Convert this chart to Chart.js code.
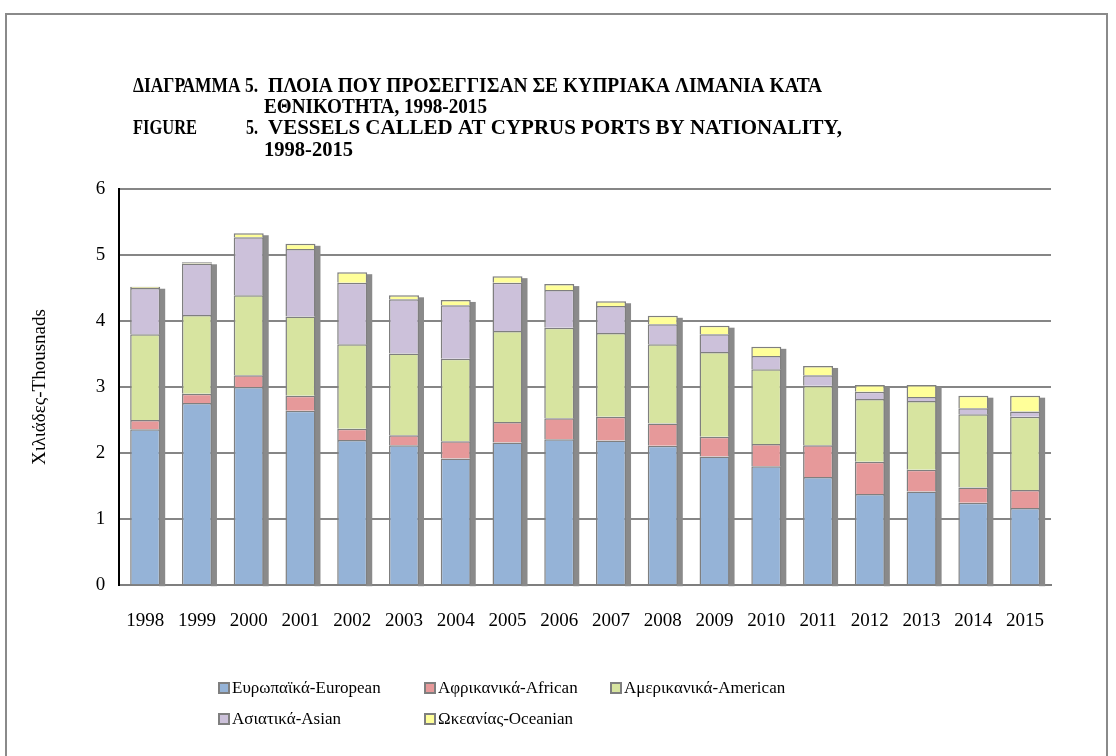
<!DOCTYPE html>
<html lang="el">
<head>
  <meta charset="UTF-8" />
  <title>Vessels called at Cyprus ports by nationality</title>
  <script src="https://cdn.jsdelivr.net/npm/chart.js"></script>
  <style>
    html, body { margin: 0; padding: 0; background: #fff; }
    body { width: 1116px; height: 756px; overflow: hidden; position: relative; font-family: "Liberation Serif", "Times New Roman", serif; }
    #frame { position: absolute; left: 5px; top: 13px; width: 1103px; height: 760px; border: 2px solid #8a8a8a; box-sizing: border-box; }
    #wrap { position: absolute; left: 0; top: 0; width: 1116px; height: 756px; }
    .legend { position: absolute; font-size: 17px; color: #000; white-space: nowrap; display: flex; align-items: center; }
    .legend i { display: inline-block; width: 8px; height: 8px; border: 2px solid #7f7f7f; margin-right: 2px; }
  </style>
</head>
<body>
  <div id="frame"></div>
  <div id="wrap"><canvas id="chart" width="1116" height="756"></canvas></div>
  <div id="legend"></div>

  <script>
    // values in thousands
    const years = ['1998','1999','2000','2001','2002','2003','2004','2005','2006','2007','2008','2009','2010','2011','2012','2013','2014','2015'];
    const european = [2.36, 2.76, 3.00, 2.64, 2.20, 2.12, 1.92, 2.16, 2.21, 2.19, 2.11, 1.95, 1.80, 1.64, 1.38, 1.42, 1.25, 1.17];
    const african  = [0.14, 0.14, 0.18, 0.23, 0.17, 0.15, 0.26, 0.31, 0.32, 0.36, 0.34, 0.30, 0.34, 0.48, 0.49, 0.33, 0.23, 0.27];
    const american = [1.30, 1.19, 1.21, 1.20, 1.28, 1.24, 1.25, 1.38, 1.37, 1.27, 1.20, 1.28, 1.13, 0.90, 0.95, 1.04, 1.11, 1.11];
    const asian    = [0.70, 0.78, 0.88, 1.02, 0.93, 0.82, 0.81, 0.73, 0.57, 0.41, 0.30, 0.27, 0.20, 0.16, 0.11, 0.06, 0.09, 0.08];
    const oceanian = [0.02, 0.02, 0.06, 0.08, 0.16, 0.06, 0.08, 0.10, 0.09, 0.07, 0.13, 0.13, 0.14, 0.14, 0.10, 0.18, 0.19, 0.24];

    const seriesNames = ['Ευρωπαϊκά-European', 'Αφρικανικά-African', 'Αμερικανικά-American', 'Ασιατικά-Asian', 'Ωκεανίας-Oceanian'];
    const seriesColors = ['#95b3d7', '#e6999a', '#d7e4a0', '#ccc1da', '#ffff99'];
    const yTicks = [0, 1, 2, 3, 4, 5, 6];

    const SERIF = '"Liberation Serif", "Times New Roman", serif';

    // title pieces: text, left x, right x, baseline
    const titleParts = [
      ['ΔΙΑΓΡΑΜΜΑ 5.', 133, 258, 92],
      ['ΠΛΟΙΑ ΠΟΥ ΠΡΟΣΕΓΓΙΣΑΝ ΣΕ ΚΥΠΡΙΑΚΑ ΛΙΜΑΝΙΑ ΚΑΤΑ', 268, 822, 92],
      ['ΕΘΝΙΚΟΤΗΤΑ, 1998-2015', 264, 487, 113],
      ['FIGURE', 133, 197, 134],
      ['5.', 246, 258, 134],
      ['VESSELS CALLED AT CYPRUS PORTS BY NATIONALITY,', 268, 842, 134],
      ['1998-2015', 264, 353, 156]
    ];

    const titlePlugin = {
      id: 'titleText',
      afterDraw(chart) {
        const ctx = chart.ctx;
        ctx.save();
        ctx.font = 'bold 20px ' + SERIF;
        ctx.fillStyle = '#000';
        ctx.textBaseline = 'alphabetic';
        titleParts.forEach(([t, x0, x1, y]) => {
          const w = ctx.measureText(t).width;
          ctx.save();
          ctx.translate(x0, y);
          ctx.scale((x1 - x0) / w, 1);
          ctx.fillText(t, 0, 0);
          ctx.restore();
        });
        ctx.restore();
      }
    };

    // grey side face of each stacked column, like the 3-D look of the original
    const sidePlugin = {
      id: 'sideFace',
      beforeDatasetsDraw(chart) {
        const ctx = chart.ctx;
        const top = chart.getDatasetMeta(chart.data.datasets.length - 1).data;
        const base = chart.getDatasetMeta(0).data;
        ctx.save();
        ctx.fillStyle = '#8a8a8a';
        top.forEach((bar, i) => {
          const p = bar.getProps(['x', 'y', 'width'], true);
          const b = base[i].getProps(['base'], true);
          const r = p.x + p.width / 2;
          ctx.fillRect(r - 1, p.y + 2, 6, b.base - p.y);
        });
        ctx.restore();
      }
    };

    new Chart(document.getElementById('chart'), {
      type: 'bar',
      data: {
        labels: years,
        datasets: [european, african, american, asian, oceanian].map((d, i) => ({
          label: seriesNames[i],
          data: d,
          backgroundColor: seriesColors[i],
          borderColor: '#7f7f7f',
          borderWidth: 1.5,
          barPercentage: 0.58,
          categoryPercentage: 1
        }))
      },
      options: {
        responsive: false,
        animation: false,
        layout: { padding: { left: 25, right: 65, top: 189, bottom: 108 } },
        plugins: { legend: { display: false }, tooltip: { enabled: false }, title: { display: false } },
        scales: {
          x: {
            stacked: true,
            grid: { display: false },
            border: { color: '#7f7f7f', width: 2 },
            ticks: { color: '#000', font: { family: SERIF, size: 19 }, padding: 16, maxRotation: 0, autoSkip: false }
          },
          y: {
            stacked: true,
            min: 0, max: 6,
            afterBuildTicks(scale) { scale.ticks = yTicks.map(v => ({ value: v })); },
            grid: { color: '#868686', lineWidth: 2, drawTicks: false },
            border: { color: '#000', width: 2 },
            ticks: { color: '#000', font: { family: SERIF, size: 19 }, padding: 14 },
            title: { display: true, text: 'Χιλιάδες-Thousnads', color: '#000', font: { family: SERIF, size: 19 }, padding: { bottom: 30 } }
          }
        }
      },
      plugins: [titlePlugin, sidePlugin]
    });

    // legend laid out in two rows like the original
    const legendSpots = [[218, 689], [424, 689], [610, 689], [218, 720], [424, 720]];
    const legendBox = document.getElementById('legend');
    seriesNames.forEach((name, i) => {
      const el = document.createElement('div');
      el.className = 'legend';
      el.style.left = legendSpots[i][0] + 'px';
      el.style.top = (legendSpots[i][1] - 11) + 'px';
      el.innerHTML = '<i style="background:' + seriesColors[i] + '"></i>' + name;
      legendBox.appendChild(el);
    });
  </script>
</body>
</html>
